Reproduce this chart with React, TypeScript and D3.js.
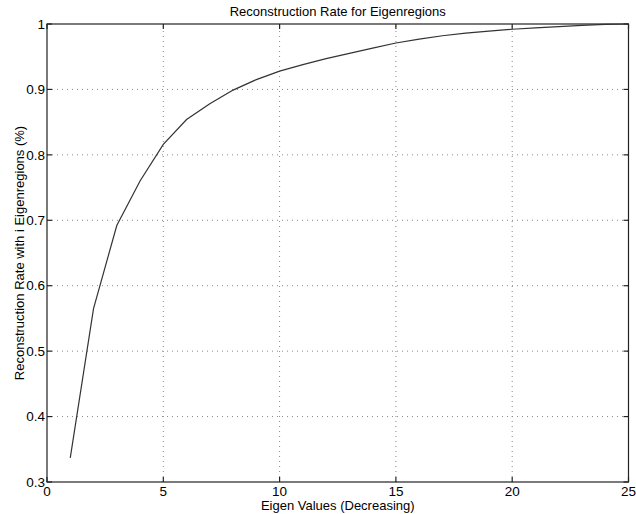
import React, { useEffect, useRef } from 'react';
import * as d3 from 'd3';

// reconstruction rate per number of eigenregions
const eigenIndex = [1, 2, 3, 4, 5, 6, 7, 8, 9, 10, 11, 12, 13, 14, 15, 16, 17, 18, 19, 20, 21, 22, 23, 24, 25];
const rateValues = [
  0.337, 0.565, 0.692, 0.760, 0.816, 0.854, 0.878, 0.899, 0.915, 0.928,
  0.938, 0.947, 0.955, 0.963, 0.971, 0.977, 0.982, 0.986, 0.989, 0.992,
  0.994, 0.996, 0.998, 0.9995, 1.0,
];
const xTicks = [0, 5, 10, 15, 20, 25];
const yTicks = [0.3, 0.4, 0.5, 0.6, 0.7, 0.8, 0.9, 1];

const App = () => {
  const svgRef = useRef<SVGSVGElement>(null);

  useEffect(() => {
    const width = 636, height = 514;
    const margin = { top: 24, right: 7.5, bottom: 32, left: 47 };
    const font = 'Liberation Sans, Arial, Helvetica, sans-serif';

    const svg = d3.select(svgRef.current);
    svg.selectAll('*').remove();
    svg.attr('width', width).attr('height', height);

    const x = d3.scaleLinear().domain([0, 25]).range([margin.left, width - margin.right]);
    const y = d3.scaleLinear().domain([0.3, 1]).range([height - margin.bottom, margin.top]);

    // dotted grid
    const grid = svg.append('g').attr('stroke', '#888').attr('stroke-width', 1).attr('stroke-dasharray', '1,4');
    grid.selectAll('line.gx')
      .data(xTicks.slice(1, -1))
      .enter().append('line')
      .attr('x1', d => x(d)).attr('x2', d => x(d))
      .attr('y1', y(0.3)).attr('y2', y(1));
    grid.selectAll('line.gy')
      .data(yTicks.slice(1, -1))
      .enter().append('line')
      .attr('y1', d => y(d)).attr('y2', d => y(d))
      .attr('x1', x(0)).attr('x2', x(25));

    // axes with inward ticks on all four sides
    const tickLen = 5;
    const axisColor = '#222';
    const axes = svg.append('g').attr('stroke', axisColor).attr('stroke-width', 1.2);
    xTicks.forEach(t => {
      axes.append('line').attr('x1', x(t)).attr('x2', x(t)).attr('y1', y(0.3)).attr('y2', y(0.3) - tickLen);
      axes.append('line').attr('x1', x(t)).attr('x2', x(t)).attr('y1', y(1)).attr('y2', y(1) + tickLen);
    });
    yTicks.forEach(t => {
      axes.append('line').attr('y1', y(t)).attr('y2', y(t)).attr('x1', x(0)).attr('x2', x(0) + tickLen);
      axes.append('line').attr('y1', y(t)).attr('y2', y(t)).attr('x1', x(25)).attr('x2', x(25) - tickLen);
    });
    axes.append('rect')
      .attr('x', x(0)).attr('y', y(1))
      .attr('width', x(25) - x(0)).attr('height', y(0.3) - y(1))
      .attr('fill', 'none');

    // tick labels
    svg.append('g').selectAll('text')
      .data(xTicks)
      .enter().append('text')
      .attr('x', d => x(d))
      .attr('y', y(0.3) + 14)
      .attr('text-anchor', 'middle')
      .attr('font-family', font).attr('font-size', 13.5).attr('fill', '#000')
      .text(d => d);
    svg.append('g').selectAll('text')
      .data(yTicks)
      .enter().append('text')
      .attr('x', x(0) - 2)
      .attr('y', d => y(d))
      .attr('dy', '0.35em')
      .attr('text-anchor', 'end')
      .attr('font-family', font).attr('font-size', 13.5).attr('fill', '#000')
      .text(d => d);

    // curve
    const line = d3.line<number>()
      .x((_, i) => x(eigenIndex[i]))
      .y(d => y(d));
    svg.append('path')
      .datum(rateValues)
      .attr('d', line)
      .attr('fill', 'none')
      .attr('stroke', '#333')
      .attr('stroke-width', 1.2);

    // title and axis labels
    svg.append('text')
      .attr('x', (x(0) + x(25)) / 2).attr('y', 16)
      .attr('text-anchor', 'middle')
      .attr('font-family', font).attr('font-size', 13).attr('fill', '#000')
      .text('Reconstruction Rate for Eigenregions');
    svg.append('text')
      .attr('x', (x(0) + x(25)) / 2).attr('y', 510)
      .attr('text-anchor', 'middle')
      .attr('font-family', font).attr('font-size', 13).attr('fill', '#000')
      .text('Eigen Values (Decreasing)');
    svg.append('text')
      .attr('transform', `translate(24, ${(y(0.3) + y(1)) / 2}) rotate(-90)`)
      .attr('text-anchor', 'middle')
      .attr('font-family', font).attr('font-size', 13).attr('fill', '#000')
      .text('Reconstruction Rate with i Eigenregions (%)');
  }, []);

  return <svg ref={svgRef} style={{ position: 'absolute', left: 0, top: 0, background: '#fff' }}></svg>;
};

export default App;
